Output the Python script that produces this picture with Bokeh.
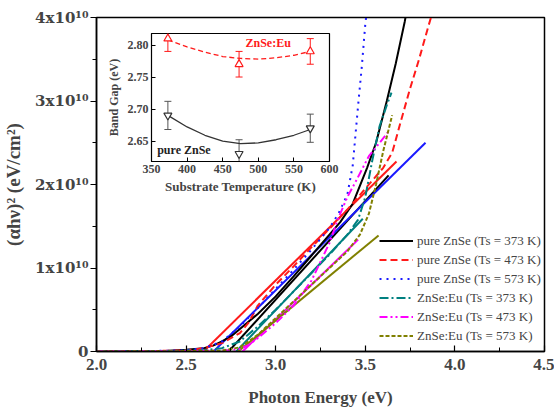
from bokeh.plotting import figure
from bokeh.models import FixedTicker, Legend, LegendItem, Whisker, ColumnDataSource, TeeHead
from bokeh.core.properties import value
from bokeh.embed import file_html
from bokeh.resources import INLINE

FONT = "Liberation Serif"

# ---------------- main plot data: photon energy (eV) vs (alpha h nu)^2 in units of 1e10 (eV/cm)^2
e_pure373 = [2.0, 2.2, 2.4, 2.5, 2.6, 2.65, 2.7, 2.75, 2.8, 2.9, 3.0, 3.1, 3.2, 3.3, 3.36, 3.43, 3.51, 3.56, 3.62, 3.67, 3.72, 3.75]
a_pure373 = [0.0, 0.005, 0.01, 0.02, 0.04, 0.07, 0.12, 0.18, 0.27, 0.45, 0.66, 0.9, 1.15, 1.4, 1.55, 1.77, 2.2, 2.5, 3.0, 3.45, 3.95, 4.3]
e_pure473 = [2.0, 2.3, 2.5, 2.6, 2.7, 2.8, 2.85, 2.9, 3.0, 3.1, 3.2, 3.3, 3.4, 3.5, 3.6, 3.65, 3.7, 3.75, 3.8, 3.85, 3.88]
a_pure473 = [0.0, 0.005, 0.015, 0.04, 0.1, 0.22, 0.35, 0.55, 0.8, 1.02, 1.25, 1.47, 1.7, 1.95, 2.2, 2.38, 2.77, 3.15, 3.5, 3.88, 4.1]
e_pure573 = [2.0, 2.3, 2.5, 2.6, 2.7, 2.8, 2.9, 3.0, 3.1, 3.2, 3.3, 3.35, 3.4, 3.43, 3.46, 3.48, 3.5, 3.51]
a_pure573 = [0.0, 0.005, 0.015, 0.04, 0.12, 0.3, 0.52, 0.75, 0.98, 1.22, 1.48, 1.65, 1.88, 2.23, 2.95, 3.4, 3.92, 4.1]
e_eu373 = [2.0, 2.4, 2.6, 2.7, 2.8, 2.9, 3.0, 3.1, 3.2, 3.3, 3.4, 3.46, 3.5, 3.54, 3.58, 3.62, 3.646]
a_eu373 = [0.0, 0.005, 0.015, 0.04, 0.12, 0.3, 0.5, 0.72, 0.94, 1.16, 1.4, 1.58, 1.85, 2.3, 2.7, 2.95, 3.1]
e_eu473 = [2.0, 2.4, 2.7, 2.8, 2.85, 2.9, 3.0, 3.1, 3.2, 3.3, 3.35, 3.4, 3.45, 3.52, 3.58, 3.635]
a_eu473 = [0.0, 0.003, 0.01, 0.03, 0.08, 0.16, 0.34, 0.55, 0.85, 1.3, 1.6, 1.85, 2.05, 2.34, 2.5, 2.65]
e_eu573 = [2.0, 2.4, 2.7, 2.8, 2.9, 3.0, 3.1, 3.2, 3.3, 3.4, 3.47, 3.52, 3.56, 3.6, 3.65]
a_eu573 = [0.0, 0.003, 0.01, 0.05, 0.2, 0.4, 0.6, 0.8, 1.0, 1.2, 1.4, 1.65, 2.0, 2.4, 2.83]

# linear (Tauc) fits: endpoints
fit_e_pure373 = [2.737, 3.63];  fit_a_pure373 = [0.0, 2.11]
fit_e_pure473 = [2.597, 3.674]; fit_a_pure473 = [0.0, 2.275]
fit_e_pure573 = [2.653, 3.836]; fit_a_pure573 = [0.0, 2.50]
fit_e_eu373 = [2.78, 3.486];    fit_a_eu373 = [0.0, 1.59]
fit_e_eu473 = [2.815, 3.46];    fit_a_eu473 = [0.0, 1.34]
fit_e_eu573 = [2.79, 3.574];    fit_a_eu573 = [0.0, 1.39]

series_labels = ["pure ZnSe (Ts = 373 K)", "pure ZnSe (Ts = 473 K)", "pure ZnSe (Ts = 573 K)",
                 "ZnSe:Eu (Ts = 373 K)", "ZnSe:Eu (Ts = 473 K)", "ZnSe:Eu (Ts = 573 K)"]

x_ticks = [2.0, 2.5, 3.0, 3.5, 4.0, 4.5]
x_tick_labels = ["2.0", "2.5", "3.0", "3.5", "4.0", "4.5"]
x_minor = [2.25, 2.75, 3.25, 3.75, 4.25]
y_ticks = [0, 1, 2, 3, 4]
y_minor = [0.5, 1.5, 2.5, 3.5]
y_tick_labels = ["0", "1x10\u00b9\u2070", "2x10\u00b9\u2070", "3x10\u00b9\u2070", "4x10\u00b9\u2070"]

# ---------------- inset data: band gap vs substrate temperature
ts = [373, 473, 573]
gap_eu = [2.81, 2.77, 2.79]
err_eu = [0.02, 0.02, 0.02]
gap_pure = [2.69, 2.63, 2.67]
err_pure = [0.022, 0.022, 0.022]
fit_t = [373, 400, 425, 450, 475, 500, 525, 550, 573]
fit_gap_eu = [2.808, 2.797, 2.789, 2.782, 2.779, 2.778, 2.780, 2.784, 2.790]
fit_gap_pure = [2.690, 2.672, 2.659, 2.650, 2.646, 2.647, 2.652, 2.659, 2.668]
inset_x_ticks = [350, 400, 450, 500, 550, 600]
inset_y_ticks = [2.65, 2.70, 2.75, 2.80]
inset_y_labels = ["2.65", "2.70", "2.75", "2.80"]

# ---------------- main figure
p = figure(width=554, height=412, x_range=(2.0, 4.5), y_range=(0, 4),
           output_backend="svg", toolbar_location=None,
           min_border_left=96, min_border_right=10, min_border_top=17, min_border_bottom=61)
p.grid.visible = False
p.outline_line_color = "black"
p.outline_line_width = 1.5
p.background_fill_color = "white"

xa = p.xaxis[0]
xa.ticker = FixedTicker(ticks=x_ticks, minor_ticks=x_minor)
xa.major_label_overrides = {t: l for t, l in zip(x_ticks, x_tick_labels)}
xa.major_tick_in = 6; xa.major_tick_out = 0
xa.minor_tick_in = 4; xa.minor_tick_out = 0
xa.axis_label = "Photon Energy (eV)"
xa.axis_label_text_font = FONT
xa.axis_label_text_font_style = "bold"
xa.axis_label_text_font_size = "17px"
xa.axis_label_standoff = 15
xa.major_label_text_font = FONT
xa.major_label_text_font_style = "bold"
xa.major_label_text_font_size = "17px"
xa.major_label_standoff = 7
xa.axis_line_width = 1.5
xa.major_tick_line_width = 1.2

ya = p.yaxis[0]
ya.ticker = FixedTicker(ticks=y_ticks, minor_ticks=y_minor)
ya.major_label_overrides = {t: l for t, l in zip(y_ticks, y_tick_labels)}
ya.major_tick_in = 0; ya.major_tick_out = 6
ya.minor_tick_in = 0; ya.minor_tick_out = 4
ya.axis_label = "(\u03b1h\u03bd)\u00b2 (eV/cm\u00b2)"
ya.axis_label_text_font = FONT
ya.axis_label_text_font_style = "bold"
ya.axis_label_text_font_size = "19px"
ya.axis_label_standoff = 8
ya.major_label_text_font = "DejaVu Serif"
ya.major_label_text_font_style = "bold"
ya.major_label_text_font_size = "15px"
ya.major_label_standoff = 2
ya.axis_line_width = 1.5
ya.major_tick_line_width = 1.2

colors = ["#000000", "#ff1a1a", "#1a1aff", "#008080", "#ff00ff", "#808000"]
dashes = ["solid", "7 4", "2 5", "9 3 2 3", "8 3 2 3 2 3", "4 2"]
data = [(e_pure373, a_pure373), (e_pure473, a_pure473), (e_pure573, a_pure573),
        (e_eu373, a_eu373), (e_eu473, a_eu473), (e_eu573, a_eu573)]
fits = [(fit_e_pure373, fit_a_pure373), (fit_e_pure473, fit_a_pure473), (fit_e_pure573, fit_a_pure573),
        (fit_e_eu373, fit_a_eu373), (fit_e_eu473, fit_a_eu473), (fit_e_eu573, fit_a_eu573)]

for (fe, fa), c in zip(fits, colors):
    p.line(fe, fa, line_color=c, line_width=2)

items = []
for (de, da), c, d, lab in zip(data, colors, dashes, series_labels):
    r = p.line(de, da, line_color=c, line_width=2, line_dash=d)
    items.append(LegendItem(label=lab, renderers=[r]))

legend = Legend(items=items, location=(283, 6), padding=0, margin=0, spacing=0,
                glyph_width=34, glyph_height=19, label_height=19, label_standoff=4,
                label_text_font=FONT, label_text_font_size="13px",
                border_line_alpha=0, background_fill_alpha=0)
p.add_layout(legend)

# ---------------- inset figure (separate root, pulled up over the main plot; transparent borders)
q = figure(width=554, height=168, x_range=(350, 600), y_range=(2.618, 2.818),
           output_backend="svg", toolbar_location=None,
           min_border_left=151, min_border_right=225, min_border_top=5, min_border_bottom=32)
q.grid.visible = False
q.outline_line_color = "black"
q.outline_line_width = 1.2
q.background_fill_color = "white"
q.border_fill_alpha = 0
q.margin = (-384, 0, 0, 0)

qx = q.xaxis[0]
qx.ticker = FixedTicker(ticks=inset_x_ticks)
qx.major_tick_in = 4; qx.major_tick_out = 0
qx.minor_tick_in = 0; qx.minor_tick_out = 0
qx.axis_label = "Substrate Temperature (K)"
qx.axis_label_text_font = FONT
qx.axis_label_text_font_style = "bold"
qx.axis_label_text_font_size = "13px"
qx.axis_label_standoff = 3
qx.major_label_text_font = FONT
qx.major_label_text_font_style = "bold"
qx.major_label_text_font_size = "12px"
qx.major_label_standoff = 3

qy = q.yaxis[0]
qy.ticker = FixedTicker(ticks=inset_y_ticks)
qy.major_label_overrides = {t: l for t, l in zip(inset_y_ticks, inset_y_labels)}
qy.major_tick_in = 4; qy.major_tick_out = 0
qy.minor_tick_in = 0; qy.minor_tick_out = 0
qy.axis_label = "Band Gap (eV)"
qy.axis_label_text_font = FONT
qy.axis_label_text_font_style = "bold"
qy.axis_label_text_font_size = "12px"
qy.axis_label_standoff = 4
qy.major_label_text_font = FONT
qy.major_label_text_font_style = "bold"
qy.major_label_text_font_size = "12px"
qy.major_label_standoff = 3

q.line(fit_t, fit_gap_eu, line_color="#ff1a1a", line_width=1.3, line_dash="5 3")
q.line(fit_t, fit_gap_pure, line_color="#333333", line_width=1.3)

src_eu = ColumnDataSource(dict(t=ts, g=gap_eu,
                               lo=[g - e for g, e in zip(gap_eu, err_eu)],
                               hi=[g + e for g, e in zip(gap_eu, err_eu)]))
src_pure = ColumnDataSource(dict(t=ts, g=gap_pure,
                                 lo=[g - e for g, e in zip(gap_pure, err_pure)],
                                 hi=[g + e for g, e in zip(gap_pure, err_pure)]))
q.add_layout(Whisker(source=src_eu, base="t", lower="lo", upper="hi", dimension="height",
                     line_color="#ff1a1a", line_width=1,
                     upper_head=TeeHead(size=7, line_color="#ff1a1a"),
                     lower_head=TeeHead(size=7, line_color="#ff1a1a")))
q.add_layout(Whisker(source=src_pure, base="t", lower="lo", upper="hi", dimension="height",
                     line_color="#555555", line_width=1,
                     upper_head=TeeHead(size=7, line_color="#555555"),
                     lower_head=TeeHead(size=7, line_color="#555555")))
q.scatter("t", "g", source=src_eu, marker="triangle", size=8,
          line_color="#ff1a1a", fill_color="white", line_width=1.2)
q.scatter("t", "g", source=src_pure, marker="inverted_triangle", size=8,
          line_color="#333333", fill_color="white", line_width=1.2)

q.text(x=[482], y=[2.803], text=["ZnSe:Eu"], text_color="#ff1a1a",
       text_font=value(FONT), text_font_style="bold", text_font_size="12px",
       text_baseline="middle", text_align="left")
q.text(x=[358], y=[2.636], text=["pure ZnSe"], text_color="#222222",
       text_font=value(FONT), text_font_style="bold", text_font_size="12px",
       text_baseline="middle", text_align="left")

open("out.html", "w").write(file_html([p, q], INLINE))
